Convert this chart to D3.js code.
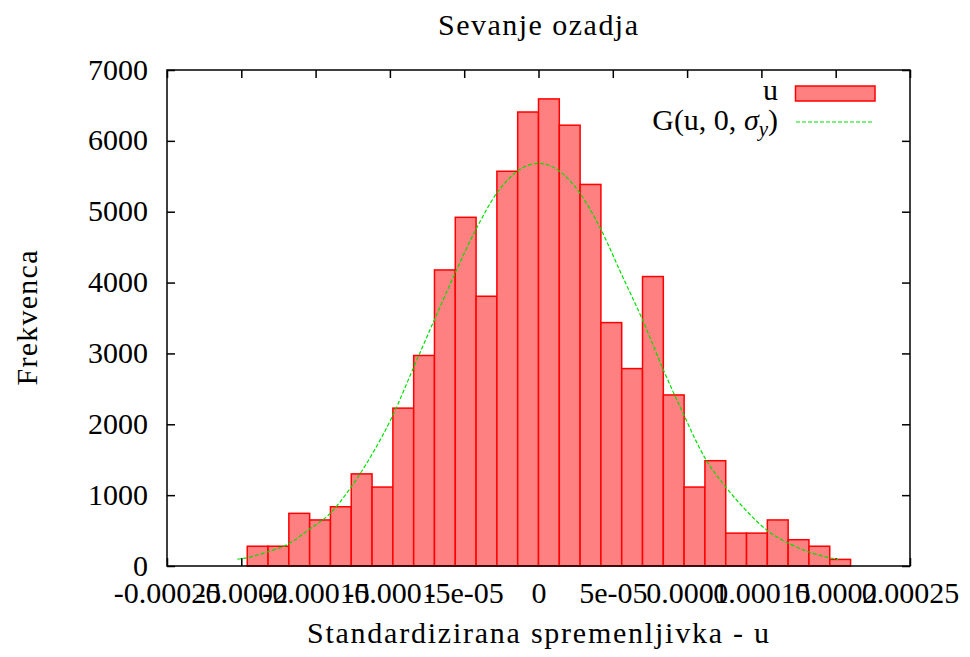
<!DOCTYPE html>
<html>
<head>
<meta charset="utf-8">
<script src="https://cdn.jsdelivr.net/npm/d3@7/dist/d3.min.js"></script>
<style>
  html, body { margin: 0; padding: 0; background: #fff; }
  svg { display: block; }
  text { font-family: "Liberation Serif", "DejaVu Serif", serif; fill: #000; }
</style>
</head>
<body>
<svg id="chart" width="970" height="657"></svg>
<script>
// ---- data ----
const title = "Sevanje ozadja";
const xLabel = "Standardizirana spremenljivka - u";
const yLabel = "Frekvenca";

const xTicks = [-0.00025, -0.0002, -0.00015, -0.0001, -0.00005, 0, 0.00005, 0.0001, 0.00015, 0.0002, 0.00025];
const xTickLabels = ["-0.00025", "-0.0002", "-0.00015", "-0.0001", "-5e-05", "0", "5e-05", "0.0001", "0.00015", "0.0002", "0.00025"];
const yTicks = [0, 1000, 2000, 3000, 4000, 5000, 6000, 7000];

// histogram: first bin lower edge and bin width, and counts per bin
const binStart = -0.000196;
const binWidth = 0.000014;
const binCounts = [279, 279, 743, 650, 836, 1300, 1114, 2228, 2971, 4178, 4921, 3807, 5571, 6407, 6592,
                   6221, 5385, 3435, 2786, 4085, 2414, 1114, 1486, 464, 464, 650, 371, 279, 93];

// Gaussian curve G(u, 0, sigma_y)
const curveU = [-0.0002027, -0.0001964, -0.0001822, -0.0001684, -0.0001538, -0.0001403, -0.0001264, -0.0001122,
                -0.0000984, -0.0000843, -0.0000708, -0.0000562, -0.0000421, -0.0000281, -0.0000143, 0,
                0.0000140, 0.0000279, 0.0000421, 0.0000560, 0.0000701, 0.0000840, 0.0000974, 0.0001120,
                0.0001262, 0.0001401, 0.0001540, 0.0001681, 0.0001820, 0.0001962, 0.0002017];
const curveV = [95, 115, 200, 310, 525, 740, 1105, 1570,
                2110, 2790, 3440, 4130, 4750, 5260, 5570, 5683,
                5575, 5260, 4745, 4110, 3470, 2770, 2150, 1525,
                1110, 775, 500, 322, 198, 114, 93];

const legendBar = "u";

// ---- layout ----
const svg = d3.select("#chart");
const L = 167, R = 910, T = 70, B = 566;
const FS = 30;

const x = d3.scaleLinear().domain([-0.00025, 0.00025]).range([L, R]);
const y = d3.scaleLinear().domain([0, 7000]).range([B, T]);

// ticks (inward, mirrored) + labels
const fmtX = d => xTickLabels[xTicks.indexOf(d)];
const gB = svg.append("g").attr("transform", `translate(0,${B})`)
  .call(d3.axisBottom(x).tickValues(xTicks).tickFormat(fmtX).tickSizeInner(-8).tickSizeOuter(0).tickPadding(15.5));
const gT = svg.append("g").attr("transform", `translate(0,${T})`)
  .call(d3.axisTop(x).tickValues(xTicks).tickFormat("").tickSizeInner(-8).tickSizeOuter(0));
const gL = svg.append("g").attr("transform", `translate(${L},0)`)
  .call(d3.axisLeft(y).tickValues(yTicks).tickFormat(d3.format("d")).tickSizeInner(-8).tickSizeOuter(0).tickPadding(19));
const gR = svg.append("g").attr("transform", `translate(${R},0)`)
  .call(d3.axisRight(y).tickValues(yTicks).tickFormat("").tickSizeInner(-8).tickSizeOuter(0));

[gB, gT, gL, gR].forEach(g => {
  g.select(".domain").remove();
  g.selectAll(".tick line").attr("stroke", "#000").attr("stroke-width", 1.5);
  g.selectAll("text").attr("font-family", "Liberation Serif, DejaVu Serif, serif").attr("font-size", FS).attr("fill", "#000");
});
gL.selectAll("text").attr("dy", "0.3em");

// bars
svg.append("g").selectAll("rect").data(binCounts).join("rect")
  .attr("x", (d, i) => x(binStart + i * binWidth))
  .attr("width", (d, i) => x(binStart + (i + 1) * binWidth) - x(binStart + i * binWidth))
  .attr("y", d => y(d))
  .attr("height", d => y(0) - y(d))
  .attr("fill", "#ff8080")
  .attr("stroke", "#ff0000")
  .attr("stroke-width", 1.5);

// gaussian curve
const line = d3.line().x(d => x(d[0])).y(d => y(d[1])).curve(d3.curveMonotoneX);
svg.append("path")
  .datum(curveU.map((u, i) => [u, curveV[i]]))
  .attr("d", line)
  .attr("fill", "none")
  .attr("stroke", "#00e000")
  .attr("stroke-width", 1.2)
  .attr("stroke-dasharray", "4,2");

// frame
svg.append("rect").attr("x", L).attr("y", T).attr("width", R - L).attr("height", B - T)
  .attr("fill", "none").attr("stroke", "#000").attr("stroke-width", 1.5);

// title & axis labels
svg.append("text").attr("x", 538).attr("y", 35).attr("text-anchor", "middle")
  .attr("font-size", FS).attr("textLength", 200).attr("lengthAdjust", "spacing").text(title);
svg.append("text").attr("x", 538).attr("y", 643).attr("text-anchor", "middle")
  .attr("font-size", FS).attr("textLength", 462).attr("lengthAdjust", "spacing").text(xLabel);
svg.append("text").attr("transform", "translate(37,318) rotate(-90)").attr("text-anchor", "middle")
  .attr("font-size", FS).attr("textLength", 135).attr("lengthAdjust", "spacing").text(yLabel);

// legend
svg.append("text").attr("x", 778).attr("y", 100).attr("text-anchor", "end").attr("font-size", FS).text(legendBar);
svg.append("rect").attr("x", 795.5).attr("y", 86).attr("width", 79.5).attr("height", 15)
  .attr("fill", "#ff8080").attr("stroke", "#ff0000").attr("stroke-width", 1.5);
const lg = svg.append("text").attr("x", 778).attr("y", 130).attr("text-anchor", "end").attr("font-size", FS);
lg.append("tspan").text("G(u, 0, ");
lg.append("tspan").attr("font-style", "italic").text("σ");
lg.append("tspan").attr("font-style", "italic").attr("font-size", 21).attr("dy", 6).text("y");
lg.append("tspan").attr("dy", -6).text(")");
svg.append("line").attr("x1", x(0.000173)).attr("x2", 874).attr("y1", 122).attr("y2", 122)
  .attr("x1", 796)
  .attr("stroke", "#00e000").attr("stroke-width", 1.2).attr("stroke-dasharray", "4,2");
</script>
</body>
</html>
